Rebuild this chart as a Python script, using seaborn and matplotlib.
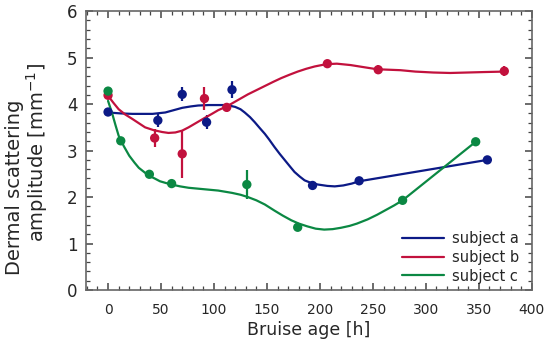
import numpy as np
import pandas as pd
import matplotlib
matplotlib.use("Agg")
import matplotlib.pyplot as plt
import seaborn as sns
from matplotlib.ticker import MultipleLocator

# measured points (bruise age [h], amplitude, error)
age_a = [0, 47, 70, 93, 117, 193, 237, 358]
amp_a = [3.83, 3.65, 4.21, 3.61, 4.31, 2.25, 2.35, 2.80]
err_a = [0.0, 0.15, 0.15, 0.15, 0.18, 0.03, 0.0, 0.0]

age_b = [0, 44, 70, 91, 112, 207, 255, 374]
amp_b = [4.19, 3.27, 2.93, 4.12, 3.93, 4.87, 4.74, 4.71]
err_b = [0.05, 0.2, 0.52, 0.25, 0.1, 0.08, 0.1, 0.1]

age_c = [0, 12, 39, 60, 131, 179, 278, 347]
amp_c = [4.28, 3.21, 2.49, 2.29, 2.27, 1.35, 1.93, 3.19]
err_c = [0.05, 0.0, 0.05, 0.05, 0.32, 0.08, 0.0, 0.0]

# fitted curves
fit_age_a = [0, 12, 23, 35, 42, 54, 62, 70, 78, 85, 95, 110, 116, 120, 125, 129, 134, 138.5, 143, 148,
             152, 157, 162, 167, 172, 176, 181, 185.5, 191, 198, 207, 214, 222, 230, 237, 358]
fit_amp_a = [3.82, 3.80, 3.79, 3.79, 3.79, 3.82, 3.87, 3.92, 3.95, 3.97, 3.98, 3.98, 3.96, 3.94, 3.89, 3.82, 3.72, 3.61, 3.49, 3.36,
             3.24, 3.08, 2.93, 2.79, 2.65, 2.54, 2.44, 2.36, 2.31, 2.27, 2.24, 2.23, 2.25, 2.29, 2.34, 2.80]

fit_age_b = [0, 5, 10, 16, 23, 29, 35, 43, 51, 57, 63.5, 70, 76, 85, 91, 98, 104, 112, 122, 132,
             140, 148, 156, 163.5, 171, 179, 187, 195, 206, 216, 229, 240, 254, 276, 290, 307, 323, 339, 355, 374]
fit_amp_b = [4.18, 4.03, 3.89, 3.78, 3.68, 3.59, 3.50, 3.44, 3.40, 3.38, 3.39, 3.43, 3.50, 3.62, 3.70, 3.79, 3.87, 3.95, 4.08, 4.21,
             4.30, 4.39, 4.48, 4.56, 4.63, 4.70, 4.76, 4.81, 4.86, 4.87, 4.84, 4.80, 4.75, 4.73, 4.70, 4.68, 4.67, 4.68, 4.69, 4.70]

fit_age_c = [0, 4, 7, 10, 15, 20, 25, 29, 34, 38.5, 44, 49, 55, 60, 68, 76, 90, 104, 117, 125,
             132, 140, 148, 157, 165, 173, 180, 188, 196, 204, 212, 220, 228, 235, 245, 254, 262, 270, 278, 347]
fit_amp_c = [4.07, 3.79, 3.55, 3.32, 3.09, 2.89, 2.74, 2.63, 2.54, 2.46, 2.40, 2.34, 2.30, 2.27, 2.23, 2.20, 2.17, 2.14, 2.09, 2.05,
             2.00, 1.93, 1.84, 1.71, 1.60, 1.50, 1.43, 1.37, 1.32, 1.30, 1.31, 1.34, 1.38, 1.43, 1.52, 1.62, 1.72, 1.82, 1.93, 3.19]

labels = ["subject a", "subject b", "subject c"]
colors = ["#0c1a86", "#c2113d", "#0b8843"]

sns.set_style("ticks")
plt.rcParams['font.family'] = ['DejaVu Sans']
plt.rcParams.update({
    "xtick.direction": "in", "ytick.direction": "in",
    "xtick.top": True, "ytick.right": True,
    "xtick.bottom": True, "ytick.left": True,
    "xtick.major.size": 5, "ytick.major.size": 5,
    "xtick.minor.size": 3, "ytick.minor.size": 3,
    "xtick.major.width": 1.1, "ytick.major.width": 1.1,
    "xtick.minor.width": 0.9, "ytick.minor.width": 0.9,
    "xtick.minor.visible": True, "ytick.minor.visible": True,
    "xtick.color": "#444444", "ytick.color": "#444444",
    "xtick.labelcolor": ".15", "ytick.labelcolor": ".15",
})

fig = plt.figure(figsize=(5.5, 3.49), dpi=100)
ax = fig.add_axes([0.156, 0.169, 0.811, 0.799])

fits = [(fit_age_a, fit_amp_a), (fit_age_b, fit_amp_b), (fit_age_c, fit_amp_c)]
pts = [(age_a, amp_a, err_a), (age_b, amp_b, err_b), (age_c, amp_c, err_c)]

for (fx, fy), (px, py, pe), lab, col in zip(fits, pts, labels, colors):
    df = pd.DataFrame({"age": fx, "amp": fy})
    sns.lineplot(data=df, x="age", y="amp", ax=ax, color=col, linewidth=1.6,
                 sort=False, estimator=None, label=lab)
    ax.errorbar(px, py, yerr=pe, fmt="none", ecolor=col, elinewidth=1.6, capsize=0)
    sns.scatterplot(x=px, y=py, ax=ax, color=col, s=45, edgecolor="none", zorder=3)

ax.set_xlim(-21, 397)
ax.set_ylim(0, 6)
ax.set_xticks([0, 50, 100, 150, 200, 250, 300, 350, 400])
ax.yaxis.set_major_locator(MultipleLocator(1))
ax.xaxis.set_minor_locator(MultipleLocator(10))
ax.yaxis.set_minor_locator(MultipleLocator(0.2))
ax.tick_params(axis="x", labelsize=10, pad=9)
ax.tick_params(axis="y", labelsize=12, pad=6)
for s in ax.spines.values():
    s.set_color("#666666")
    s.set_linewidth(1.2)

ax.set_xlabel("Bruise age [h]", fontsize=12.5, labelpad=3)
ax.set_ylabel("")
fig.text(15 / 550, 1 - 187 / 349, "Dermal scattering", rotation=90, fontsize=14,
         ha="center", va="center", color=".15")
fig.text(37 / 550, 1 - 152 / 349, "amplitude [mm$^{-1}$]", rotation=90, fontsize=14,
         ha="center", va="center", color=".15")

ax.legend(loc="center left", bbox_to_anchor=(0.709, 0.118), frameon=False, fontsize=10.5,
          handlelength=2.9, handletextpad=0.55, labelspacing=0.27, borderaxespad=0, borderpad=0)

fig.savefig("out.png", dpi=100)
